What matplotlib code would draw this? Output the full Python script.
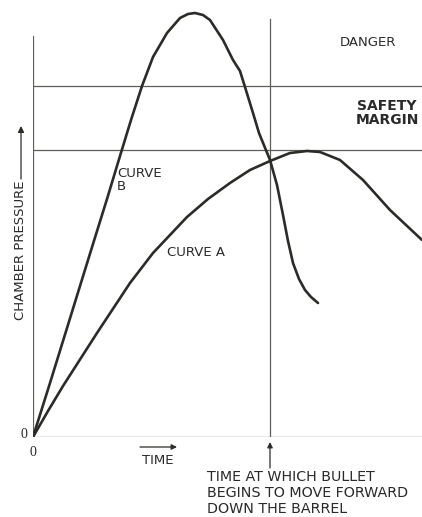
import matplotlib
matplotlib.use("Agg")
import matplotlib.pyplot as plt

# pressure-time curves, time and pressure in arbitrary units
curve_b_time = [0, 17, 30, 47, 60, 74, 87, 98, 109, 120, 134, 147, 155, 162,
                170, 177, 190, 200, 207, 212, 220, 226, 237, 244, 250, 255, 260,
                266, 272, 278, 285]
curve_b_pressure = [0, 54, 96, 151, 193, 238, 281, 317, 351, 380, 404, 419, 423, 424,
                    422, 417, 397, 377, 366, 350, 324, 304, 277, 252, 222, 196, 174,
                    158, 147, 140, 134]

curve_a_time = [0, 15, 30, 64, 97, 120, 137, 154, 175, 197, 217, 237, 257, 274,
                287, 307, 330, 357, 389]
curve_a_pressure = [0, 26, 51, 104, 154, 184, 202, 220, 238, 254, 267, 276, 284, 286,
                    285, 277, 257, 227, 197]

danger_level = 351
safe_level = 287
bullet_move_time = 237

fig = plt.figure(figsize=(4.22, 5.17), dpi=100)
ax = fig.add_axes([33 / 422, 80 / 517, 389 / 422, 430 / 517])
ax.set_xlim(0, 389)
ax.set_ylim(0, 430)
ax.axis("off")

ink = "#2b2b27"
grid = "#5f5f5a"

# axes and reference lines
ax.plot([0, 0], [0, 401], color=grid, lw=0.9)
ax.plot([0, 389], [0, 0], color=grid, lw=0.9)
ax.plot([0, 389], [danger_level, danger_level], color=grid, lw=0.9)
ax.plot([0, 389], [safe_level, safe_level], color=grid, lw=0.9)
ax.plot([bullet_move_time, bullet_move_time], [0, 418], color=grid, lw=0.9)

ax.plot(curve_b_time, curve_b_pressure, color=ink, lw=1.9,
        solid_capstyle="round", solid_joinstyle="round")
ax.plot(curve_a_time, curve_a_pressure, color=ink, lw=1.9,
        solid_capstyle="round", solid_joinstyle="round")

font = dict(family="DejaVu Sans", color="#2a2a2a")
ax.text(335, 394, "DANGER", ha="center", va="center", fontsize=9.5, **font)
ax.text(354, 324, "SAFETY\nMARGIN", ha="center", va="center", fontsize=10,
        fontweight="bold", linespacing=1.0, **font)
ax.text(84, 270, "CURVE\nB", ha="left", va="top", fontsize=9.5, linespacing=1.0, **font)
ax.text(134, 184, "CURVE A", ha="left", va="center", fontsize=9.5, **font)

# y axis label with arrow
ax.text(-12, 187, "CHAMBER PRESSURE", rotation=90, ha="center", va="center",
        fontsize=9.5, clip_on=False, **font)
ax.annotate("", xy=(-12, 311), xytext=(-12, 258), annotation_clip=False,
            arrowprops=dict(arrowstyle="-|>", color=ink, lw=0.9, mutation_scale=9,
                            shrinkA=0, shrinkB=0))

ax.text(-9, 2, "0", ha="center", va="center", fontsize=10,
        family="Liberation Serif", clip_on=False, color="#2a2a2a")
ax.text(0, -15, "0", ha="center", va="center", fontsize=10,
        family="Liberation Serif", clip_on=False, color="#2a2a2a")

# time label with arrow
ax.annotate("", xy=(144, -10), xytext=(107, -10), annotation_clip=False,
            arrowprops=dict(arrowstyle="-|>", color=ink, lw=0.9, mutation_scale=8,
                            shrinkA=0, shrinkB=0))
ax.text(125, -23, "TIME", ha="center", va="center", fontsize=9.5, clip_on=False, **font)

ax.annotate("", xy=(bullet_move_time, -5), xytext=(bullet_move_time, -31),
            annotation_clip=False,
            arrowprops=dict(arrowstyle="-|>", color=ink, lw=0.9, mutation_scale=8,
                            shrinkA=0, shrinkB=0))
ax.text(174, -33, "TIME AT WHICH BULLET\nBEGINS TO MOVE FORWARD\nDOWN THE BARREL",
        ha="left", va="top", fontsize=10.3, linespacing=1.2, clip_on=False, **font)

fig.savefig("out.png", dpi=100, facecolor="white")
